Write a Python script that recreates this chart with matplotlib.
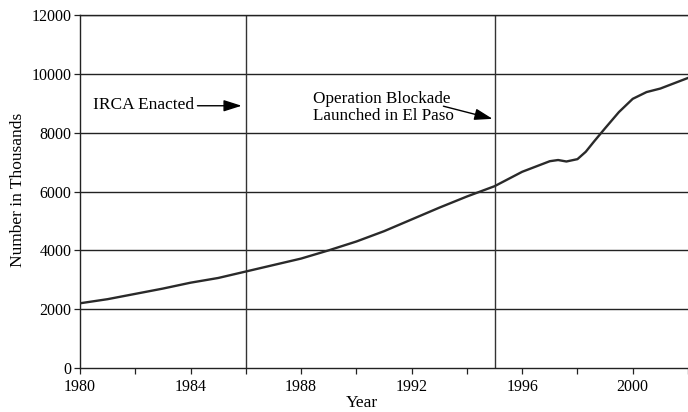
import numpy as np
import matplotlib
matplotlib.use('Agg')
import matplotlib.pyplot as plt
from matplotlib.ticker import MultipleLocator

plt.rcParams['font.family'] = ['Liberation Serif', 'DejaVu Serif']

# readings from the curve (thousands)
years = [1980, 1981, 1982, 1983, 1984, 1985, 1986, 1987, 1988, 1989,
         1990, 1991, 1992, 1993, 1994, 1995, 1996, 1997, 1997.3, 1997.6,
         1998, 1998.3, 1998.6, 1999, 1999.5, 2000, 2000.5, 2001, 2001.5, 2002]
values = [2200, 2340, 2520, 2700, 2900, 3060, 3280, 3500, 3720, 4000,
          4300, 4650, 5050, 5450, 5830, 6180, 6670, 7030, 7070, 7020,
          7100, 7350, 7700, 8150, 8700, 9150, 9380, 9500, 9680, 9860]

event_years = [1986, 1995]
ytick_vals = [0, 2000, 4000, 6000, 8000, 10000, 12000]
xtick_vals = [1980, 1984, 1988, 1992, 1996, 2000]

fig = plt.figure(figsize=(6.88, 4.12), dpi=100)
ax = fig.add_axes([80/688, 44/412, 608/688, 353/412])

for yv in ytick_vals[1:]:
    ax.axhline(yv, color='#222222', lw=1.0, zorder=1)
for ev in event_years:
    ax.axvline(ev, color='#333333', lw=1.0, zorder=1)

ax.plot(years, values, color='#2a2a2a', lw=1.7, zorder=3)

ax.set_xlim(1980, 2002)
ax.set_ylim(0, 12000)
ax.set_xticks(xtick_vals)
ax.xaxis.set_minor_locator(MultipleLocator(2))
ax.set_yticks(ytick_vals)

for s in ['left', 'bottom', 'top']:
    ax.spines[s].set_linewidth(1.0)
    ax.spines[s].set_color('#222222')
ax.spines['right'].set_visible(False)

ax.tick_params(axis='both', which='both', direction='out', length=4,
               width=0.9, color='#222222', labelsize=11.5)
ax.tick_params(axis='y', pad=2)
ax.tick_params(axis='x', which='both', pad=4)

ax.set_xlabel('Year', fontsize=12.5)
ax.set_ylabel('Number in Thousands', fontsize=12.5)
ax.xaxis.set_label_coords(0.464, -0.076)
ax.yaxis.set_label_coords(-0.088, 0.505)

# annotations
ax.text(1980.47, 8950, 'IRCA Enacted', fontsize=12.5, ha='left', va='center')
ax.annotate('', xy=(1985.85, 8915), xytext=(1984.25, 8915),
            arrowprops=dict(arrowstyle='-|>,head_length=1.1,head_width=0.35',
                            color='black', lw=1.0, shrinkA=0, shrinkB=0))

ax.text(1988.44, 8860, 'Operation Blockade\nLaunched in El Paso', fontsize=12.3,
        ha='left', va='center', linespacing=1.05)
ax.annotate('', xy=(1994.93, 8470), xytext=(1993.15, 8900),
            arrowprops=dict(arrowstyle='-|>,head_length=1.1,head_width=0.35',
                            color='black', lw=1.0, shrinkA=0, shrinkB=0))

fig.savefig('out.png', dpi=100)
